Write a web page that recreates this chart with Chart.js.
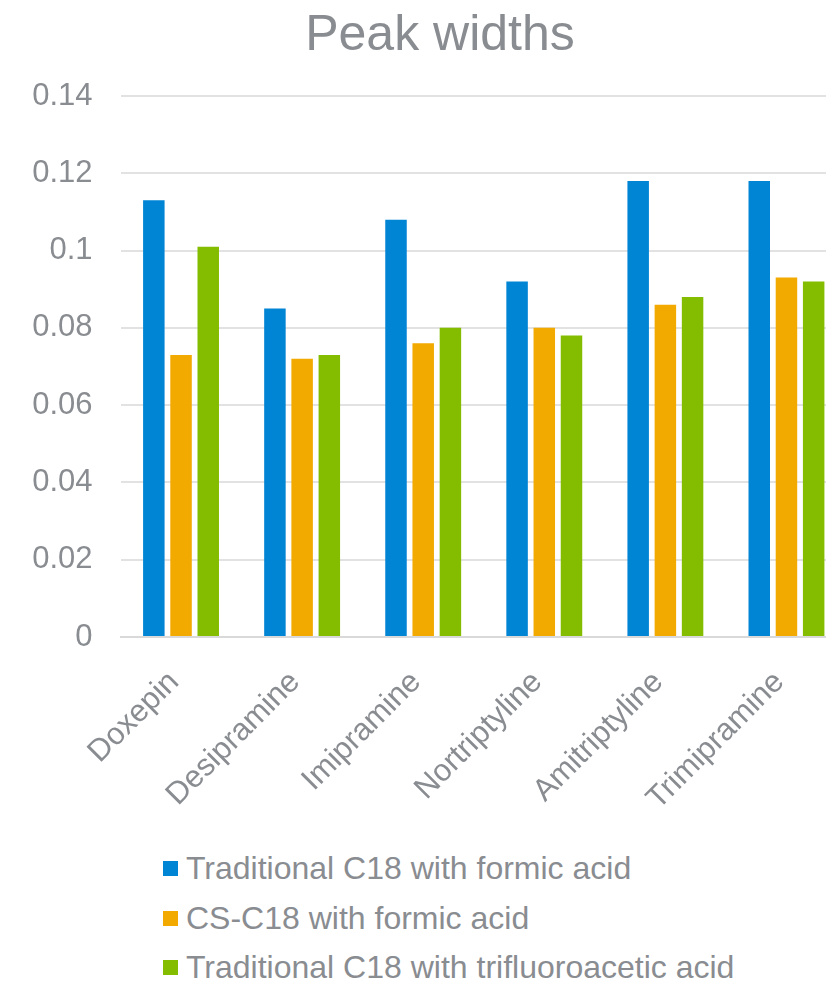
<!DOCTYPE html>
<html>
<head>
<meta charset="utf-8">
<script src="https://cdn.jsdelivr.net/npm/chart.js@4/dist/chart.umd.min.js"></script>
<style>
  html, body { margin: 0; padding: 0; background: #ffffff; overflow: hidden; width: 826px; height: 984px; }
  #wrap { position: relative; width: 880px; height: 984px; }
  #chart { position: absolute; left: 0; top: 0; }
  #legend { position: absolute; left: 163px; top: 844px; font-family: "Liberation Sans", Arial, sans-serif; font-size: 32px; color: #898c90; }
  .row { display: flex; align-items: center; height: 49.5px; white-space: nowrap; }
  .swatch { width: 15px; height: 15px; margin-right: 8px; flex: none; }
</style>
</head>
<body>
<div id="wrap">
  <canvas id="chart" width="880" height="840"></canvas>
  <div id="legend"></div>
</div>
<script>
// Drugs on the x axis
const categories = ['Doxepin', 'Desipramine', 'Imipramine', 'Nortriptyline', 'Amitriptyline', 'Trimipramine'];

// Series names
const seriesNames = [
  'Traditional C18 with formic acid',
  'CS-C18 with formic acid',
  'Traditional C18 with trifluoroacetic acid'
];

// Peak width per drug, one array per series
const c18Formic = [0.113, 0.085, 0.108, 0.092, 0.118, 0.118];
const csC18Formic = [0.073, 0.072, 0.076, 0.080, 0.086, 0.093];
const c18Tfa = [0.101, 0.073, 0.080, 0.078, 0.088, 0.092];

// Y axis ticks
const yTicks = [0, 0.02, 0.04, 0.06, 0.08, 0.1, 0.12, 0.14];

const seriesColors = ['#0084d4', '#f2a900', '#84bd00'];
const seriesValues = [c18Formic, csC18Formic, c18Tfa];

const textGray = '#898c90';
const fontFamily = '"Liberation Sans", Arial, sans-serif';

const chart = new Chart(document.getElementById('chart'), {
  type: 'bar',
  data: {
    labels: categories,
    datasets: seriesNames.map((name, i) => ({
      label: name,
      data: seriesValues[i],
      backgroundColor: seriesColors[i],
      borderWidth: 0,
      categoryPercentage: 0.674,
      barPercentage: 0.79
    }))
  },
  options: {
    responsive: false,
    animation: false,
    layout: { padding: 0 },
    plugins: {
      legend: { display: false },
      tooltip: { enabled: false },
      title: {
        display: true,
        text: 'Peak widths',
        color: textGray,
        font: { family: fontFamily, size: 50, weight: 'normal', lineHeight: 1.2 },
        padding: { top: 6.5, bottom: 29.5 }
      }
    },
    scales: {
      x: {
        grid: { display: false, drawTicks: false },
        border: { display: true, color: '#d9d9d9', width: 2 },
        ticks: {
          color: textGray,
          font: { family: fontFamily, size: 31 },
          minRotation: 45,
          maxRotation: 45,
          padding: 27,
          labelOffset: -7,
          autoSkip: false
        },
        afterFit: (scale) => { scale.height = 840 - 637; }
      },
      y: {
        min: 0,
        max: 0.14,
        afterBuildTicks: (scale) => { scale.ticks = yTicks.map(v => ({ value: v })); },
        grid: { color: '#e2e2e2', lineWidth: 2, drawTicks: false },
        border: { display: false },
        ticks: {
          color: textGray,
          font: { family: fontFamily, size: 31 },
          padding: 28,
          callback: (value) => String(value)
        },
        afterFit: (scale) => { scale.width = 120.5; }
      },
      // empty right-hand gutter so the plot stops short of the canvas edge
      gutter: {
        type: 'linear',
        position: 'right',
        display: true,
        grid: { display: false, drawTicks: false },
        border: { display: false },
        ticks: { display: false },
        afterFit: (scale) => { scale.width = 33; }
      }
    }
  }
});

// Legend rows, one per series
const legend = document.getElementById('legend');
chart.data.datasets.forEach((ds) => {
  const row = document.createElement('div');
  row.className = 'row';
  const sw = document.createElement('span');
  sw.className = 'swatch';
  sw.style.background = ds.backgroundColor;
  const label = document.createElement('span');
  label.textContent = ds.label;
  row.appendChild(sw);
  row.appendChild(label);
  legend.appendChild(row);
});
</script>
</body>
</html>
